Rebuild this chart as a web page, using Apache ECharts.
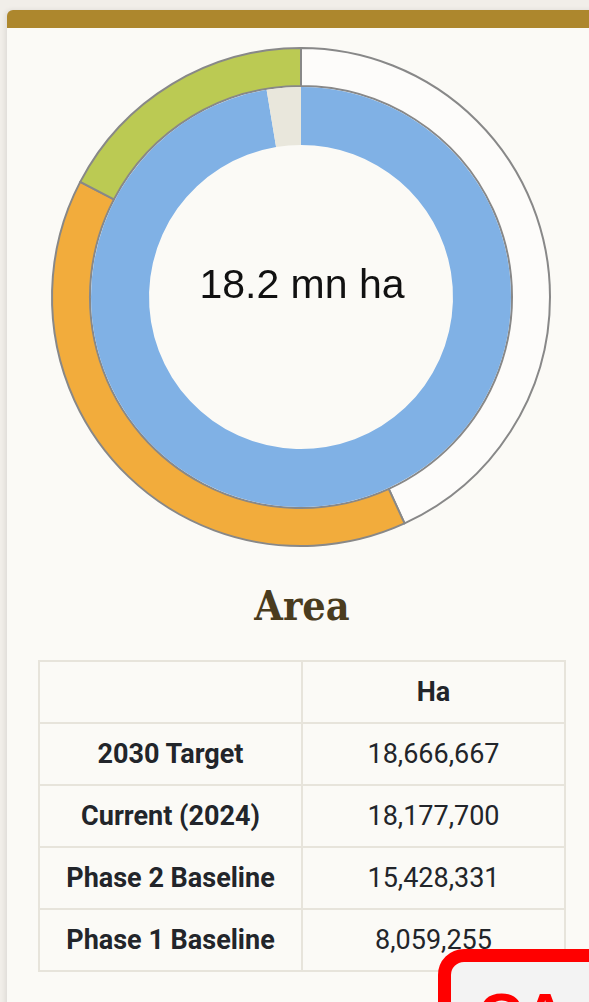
<!DOCTYPE html>
<html>
<head>
<meta charset="utf-8">
<script src="https://cdn.jsdelivr.net/npm/echarts@6/dist/echarts.min.js"></script>
<style>
  html, body { margin: 0; padding: 0; }
  body {
    width: 589px; height: 1002px; overflow: hidden; position: relative;
    background: #f1eee9; font-family: Roboto, "Liberation Sans", sans-serif;
  }
  .card {
    position: absolute; left: 7px; top: 10px; width: 620px; height: 1100px;
    background: #fbfaf6; border-top: 18px solid #ad872d;
    border-radius: 6px 6px 0 0; box-shadow: -2px 0 5px rgba(0,0,0,0.08);
  }
  #chart { position: absolute; left: 0; top: 0; width: 589px; height: 560px; }
  .title {
    position: absolute; left: 0; width: 604px; top: 586px; text-align: center;
    font-family: "DejaVu Serif Condensed", "DejaVu Serif", serif; font-weight: bold;
    font-size: 41px; line-height: 40px; color: #4a3c1e;
  }
  table {
    position: absolute; left: 38px; top: 660px; width: 528px;
    border-collapse: collapse; font-size: 27px; color: #22252a;
  }
  td, th { border: 2px solid #e7e4db; height: 60px; padding: 0; text-align: center; width: 50%; }
  th, td.lab { font-weight: bold; }
  .warn {
    position: absolute; left: 438px; top: 949px; width: 220px; height: 120px;
    border: 13px solid #ff0000; border-radius: 26px; background: #f3f3f3;
    box-sizing: border-box; overflow: hidden;
  }
  .warn span {
    position: absolute; left: 27px; top: 22px; font-family: "Liberation Sans", sans-serif;
    font-weight: bold; font-size: 62px; line-height: 62px; color: #ff0000;
  }
</style>
</head>
<body>
<div class="card"></div>
<div id="chart"></div>
<div class="title">Area</div>
<table id="tbl"></table>
<div class="warn"><span>CA</span></div>
<script>
const rowLabels = ['2030 Target', 'Current (2024)', 'Phase 2 Baseline', 'Phase 1 Baseline'];
const rowValues = [18666667, 18177700, 15428331, 8059255];
const centerLabel = '18.2 mn ha';

const target = rowValues[0];
const current = rowValues[1];
const phase2 = rowValues[2];
const phase1 = rowValues[3];

// outer ring: phase 1 base, phase 2 addition, remaining to target
const outerNames = ['Phase 1 Baseline', 'Phase 2 Addition', 'Remaining'];
const outerValues = [phase1, phase2 - phase1, target - phase2];
const outerColors = ['#fdfcfa', '#f2ac3c', '#bbca53'];

// inner ring: current vs gap to target
const innerNames = ['Current (2024)', 'Gap'];
const innerValues = [current, target - current];
const innerColors = ['#80b1e5', '#e9e7dc'];

const tbl = document.getElementById('tbl');
let html = '<tr><th></th><th>Ha</th></tr>';
rowLabels.forEach((l, i) => {
  html += '<tr><td class="lab">' + l + '</td><td>' + rowValues[i].toLocaleString('en-US') + '</td></tr>';
});
tbl.innerHTML = html;

const chart = echarts.init(document.getElementById('chart'));
chart.setOption({
  animation: false,
  series: [
    {
      type: 'pie',
      center: [301, 297],
      radius: [211, 249],
      startAngle: 90,
      silent: true,
      label: { show: false },
      itemStyle: { borderColor: '#888888', borderWidth: 2 },
      data: outerNames.map((n, i) => ({ name: n, value: outerValues[i], itemStyle: { color: outerColors[i] } }))
    },
    {
      type: 'pie',
      center: [301, 297],
      radius: [152, 210],
      startAngle: 90,
      silent: true,
      label: { show: false },
      itemStyle: { borderWidth: 0 },
      data: innerNames.map((n, i) => ({ name: n, value: innerValues[i], itemStyle: { color: innerColors[i] } }))
    }
  ],
  graphic: [{
    type: 'text',
    x: 302,
    y: 287,
    style: {
      text: centerLabel,
      x: 0, y: 0,
      align: 'center',
      verticalAlign: 'middle',
      font: '41px "Liberation Sans", Arial, sans-serif',
      fill: '#111'
    }
  }]
});
</script>
</body>
</html>
